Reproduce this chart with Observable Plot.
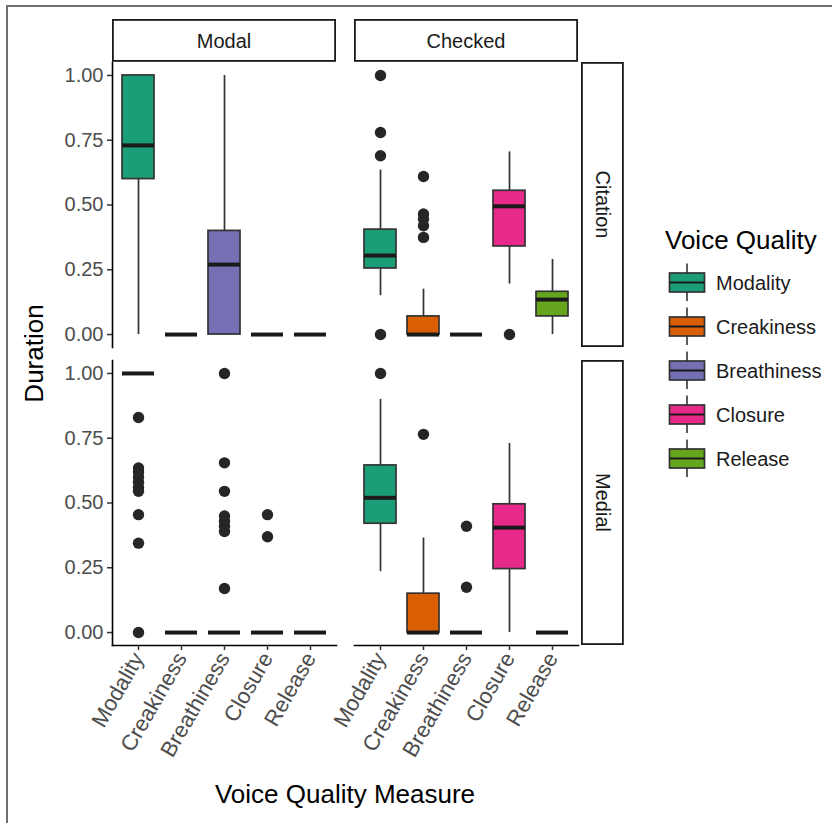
<!DOCTYPE html>
<html><head><meta charset="utf-8">
<script src="https://cdn.jsdelivr.net/npm/d3@7"></script>
<script src="https://cdn.jsdelivr.net/npm/@observablehq/plot@0.6"></script>
<style>
body{margin:0;background:#fff;}
#wrap{position:relative;width:832px;height:823px;overflow:hidden;font-family:"Liberation Sans",Arial,Helvetica,sans-serif;background:#fff;}
#border{position:absolute;left:6px;top:5px;width:900px;height:900px;border-left:2px solid #707070;border-top:2px solid #707070;}
#chart{position:absolute;left:0;top:0;}
</style></head><body>
<div id="wrap"><div id="border"></div><div id="chart"></div></div>
<script>
// ---- data ----
const measures = ["Modality", "Creakiness", "Breathiness", "Closure", "Release"];
const contexts = ["Modal", "Checked"];
const positions = ["Citation", "Medial"];
const palette = ["#1B9E77", "#D95F02", "#7570B3", "#E7298A", "#66A61E"];
const yTicks = [0, 0.25, 0.5, 0.75, 1];

// box summaries per measure: [lower whisker, Q1, median, Q3, upper whisker]
const citationModalStats = [[0, 0.60, 0.73, 1.00, 1.00], [0, 0, 0, 0, 0], [0, 0, 0.27, 0.40, 1.00], [0, 0, 0, 0, 0], [0, 0, 0, 0, 0]];
const citationCheckedStats = [[0.15, 0.255, 0.305, 0.405, 0.635], [0, 0, 0, 0.07, 0.175], [0, 0, 0, 0, 0], [0.195, 0.34, 0.495, 0.555, 0.705], [0, 0.07, 0.135, 0.165, 0.29]];
const medialModalStats = [[1, 1, 1, 1, 1], [0, 0, 0, 0, 0], [0, 0, 0, 0, 0], [0, 0, 0, 0, 0], [0, 0, 0, 0, 0]];
const medialCheckedStats = [[0.235, 0.42, 0.52, 0.645, 0.90], [0, 0, 0, 0.15, 0.365], [0, 0, 0, 0, 0], [0, 0.245, 0.405, 0.495, 0.73], [0, 0, 0, 0, 0]];

// outliers per measure
const citationModalOutliers = [[], [], [], [], []];
const citationCheckedOutliers = [[1.0, 0.78, 0.69, 0], [0.61, 0.465, 0.445, 0.42, 0.375], [], [0], []];
const medialModalOutliers = [[0.83, 0.635, 0.62, 0.60, 0.58, 0.56, 0.545, 0.455, 0.345, 0], [], [1.0, 0.655, 0.545, 0.45, 0.43, 0.41, 0.39, 0.17], [0.455, 0.37], []];
const medialCheckedOutliers = [[1.0], [0.765], [0.41, 0.175], [], []];

// ---- tables ----
const panels = [
  {context: "Modal", position: "Citation", stats: citationModalStats, out: citationModalOutliers},
  {context: "Checked", position: "Citation", stats: citationCheckedStats, out: citationCheckedOutliers},
  {context: "Modal", position: "Medial", stats: medialModalStats, out: medialModalOutliers},
  {context: "Checked", position: "Medial", stats: medialCheckedStats, out: medialCheckedOutliers}
];
const boxes = panels.flatMap(p => p.stats.map((s, i) => ({
  context: p.context, position: p.position, measure: measures[i],
  lo: s[0], q1: s[1], median: s[2], q3: s[3], hi: s[4]
})));
const outliers = panels.flatMap(p => p.out.flatMap((vals, i) => vals.map(v => ({
  context: p.context, position: p.position, measure: measures[i], value: v
}))));

const FONT = '"Liberation Sans", Arial, Helvetica, sans-serif';
const W = 832, H = 823;
const fxy = {fx: "context", fy: "position"};

const plot = Plot.plot({
  width: W, height: H,
  marginTop: 62, marginBottom: 178, marginLeft: 112, marginRight: 254,
  style: {fontFamily: FONT, background: "transparent", overflow: "visible"},
  fx: {domain: contexts, paddingInner: 18 / 242, paddingOuter: 0, axis: null},
  fy: {domain: positions, paddingInner: 13 / 298, paddingOuter: 0, axis: null},
  x: {domain: measures, paddingInner: 0.25, paddingOuter: 0.225, label: null},
  y: {domain: [-0.05, 1.05], label: null},
  color: {domain: measures, range: palette},
  marks: [
    Plot.frame({anchor: "left", facetAnchor: "left", stroke: "#000", strokeWidth: 1.6}),
    Plot.frame({anchor: "bottom", facetAnchor: "bottom", stroke: "#000", strokeWidth: 1.6}),
    Plot.axisY({ticks: yTicks, tickFormat: d3.format(".2f"), tickSize: 5, tickPadding: 4,
      fontSize: 20, fill: "#4d4d4d", stroke: "#333", strokeWidth: 1.5, label: null}),
    Plot.axisX({tickRotate: -60, tickSize: 5, tickPadding: 4, fontSize: 22,
      fill: "#4d4d4d", stroke: "#333", strokeWidth: 1.5, label: null}),
    Plot.ruleX(boxes, {...fxy, x: "measure", y1: "lo", y2: "q1", stroke: "#333", strokeWidth: 1.7}),
    Plot.ruleX(boxes, {...fxy, x: "measure", y1: "q3", y2: "hi", stroke: "#333", strokeWidth: 1.7}),
    Plot.barY(boxes, {...fxy, x: "measure", y1: "q1", y2: "q3", fill: "measure", stroke: "#333", strokeWidth: 1.7}),
    Plot.tickY(boxes, {...fxy, x: "measure", y: "median", stroke: "#1a1a1a", strokeWidth: 4}),
    Plot.dot(outliers, {...fxy, x: "measure", y: "value", r: 5.7, fill: "#262626", stroke: null})
  ]
});

document.getElementById("chart").appendChild(plot);

// ---- facet strips, titles, legend (positions from Plot's scales) ----
const svg = d3.select(plot);
const fxS = plot.scale("fx"), fyS = plot.scale("fy"), colorS = plot.scale("color");
const bwx = fxS.bandwidth ?? 224, bwy = fyS.bandwidth ?? 285;
const g = svg.append("g").attr("font-family", FONT);

for (const c of contexts) {
  const x0 = fxS.apply(c);
  g.append("rect").attr("x", x0 + 0.9).attr("y", 19.9).attr("width", bwx - 1.8).attr("height", 41)
    .attr("fill", "#fff").attr("stroke", "#1a1a1a").attr("stroke-width", 1.8);
  g.append("text").attr("x", x0 + bwx / 2).attr("y", 40.5).attr("text-anchor", "middle")
    .attr("dominant-baseline", "central").attr("font-size", 20).attr("fill", "#1a1a1a").text(c);
}
const stripX = fxS.apply(contexts[contexts.length - 1]) + bwx + 3;
for (const p of positions) {
  const y0 = fyS.apply(p);
  g.append("rect").attr("x", stripX + 0.9).attr("y", y0 + 0.9).attr("width", 41).attr("height", bwy - 1.8)
    .attr("fill", "#fff").attr("stroke", "#1a1a1a").attr("stroke-width", 1.8);
  g.append("text").attr("transform", `translate(${stripX + 21.5},${y0 + bwy / 2}) rotate(90)`)
    .attr("text-anchor", "middle").attr("dominant-baseline", "central")
    .attr("font-size", 20).attr("fill", "#1a1a1a").text(p);
}

// axis titles
const panelsLeft = fxS.apply(contexts[0]);
const panelsRight = fxS.apply(contexts[contexts.length - 1]) + bwx;
const panelsTop = fyS.apply(positions[0]);
const panelsBottom = fyS.apply(positions[positions.length - 1]) + bwy;
g.append("text").attr("transform", `translate(43,${(panelsTop + panelsBottom) / 2}) rotate(-90)`)
  .attr("text-anchor", "middle").attr("font-size", 26).attr("fill", "#000").text("Duration");
g.append("text").attr("x", (panelsLeft + panelsRight) / 2).attr("y", 803)
  .attr("text-anchor", "middle").attr("font-size", 26).attr("fill", "#000").text("Voice Quality Measure");

// legend
const lg = g.append("g");
lg.append("text").attr("x", 665).attr("y", 249).attr("text-anchor", "start")
  .attr("font-size", 26).attr("fill", "#000").text("Voice Quality");
measures.forEach((m, i) => {
  const cy = 282.5 + i * 44;
  lg.append("line").attr("x1", 687).attr("x2", 687).attr("y1", cy - 19).attr("y2", cy + 18.5)
    .attr("stroke", "#333").attr("stroke-width", 1.6);
  lg.append("rect").attr("x", 669.5).attr("y", cy - 9.5).attr("width", 35).attr("height", 19)
    .attr("fill", colorS.apply(m)).attr("stroke", "#333").attr("stroke-width", 1.7);
  lg.append("line").attr("x1", 669.5).attr("x2", 704.5).attr("y1", cy).attr("y2", cy)
    .attr("stroke", "#1a1a1a").attr("stroke-width", 2);
  lg.append("text").attr("x", 716).attr("y", cy).attr("text-anchor", "start")
    .attr("dominant-baseline", "central")
    .attr("font-size", 20).attr("fill", "#1a1a1a").text(m);
});
</script>
</body></html>
